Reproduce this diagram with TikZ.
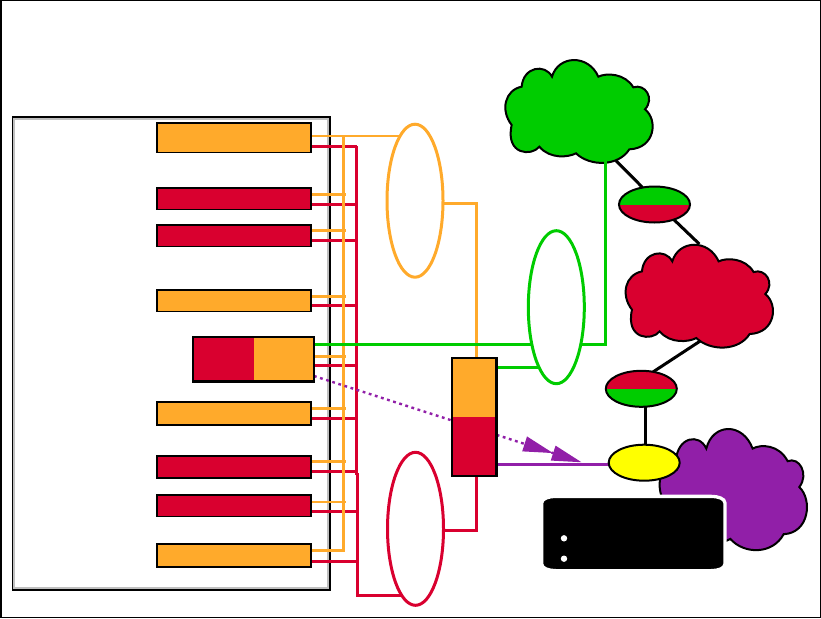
\documentclass[tikz,border=0pt]{standalone}
\usetikzlibrary{arrows.meta,shapes.geometric,backgrounds}

\tikzset{
	slotbox/.style={draw, line width=1.6pt, inner sep=0pt, outer sep=0pt, minimum width=154pt},
	splitbox/.style={draw, line width=2.4pt, inner sep=0pt, outer sep=0pt},
	ringnode/.style={draw=#1, fill=white, ellipse, line width=3pt, inner sep=0pt, outer sep=0pt, minimum width=56pt, minimum height=153pt},
	gatenode/.style={draw, ellipse, line width=2pt, inner sep=0pt, outer sep=0pt, minimum width=71pt, minimum height=36pt},
	dotnode/.style={circle, fill=white, inner sep=0pt, minimum size=6.4pt},
	tophalf/.style={path picture={\fill[#1] (path picture bounding box.north west) rectangle (path picture bounding box.east);}},
	lefthalf/.style={path picture={\fill[#1] (path picture bounding box.north west) rectangle (path picture bounding box.south);}},
	wire/.style={line width=2.7pt},
	stub/.style={line width=2.4pt},
	netlink/.style={line width=3pt, black},
	cloudlobes/.pic={
		\draw[line width=2pt, pic actions, scale=1/3] (186,110)
			.. controls (205,45) and (295,42) .. (325,110)
			.. controls (350,98) and (405,100) .. (430,142)
			.. controls (465,130) and (495,175) .. (465,208)
			.. controls (505,240) and (495,325) .. (418,328)
			.. controls (385,380) and (300,380) .. (258,340)
			.. controls (235,352) and (180,358) .. (148,320)
			.. controls (125,350) and (45,345) .. (65,255)
			.. controls (30,210) and (45,150) .. (95,140)
			.. controls (100,80) and (165,70) .. (186,110) -- cycle;
		\coordinate (-link) at (126,120.7);
		\coordinate (-pipe) at (115.3,120.7);
		\coordinate (-up) at (89,19.3);
		\coordinate (-down) at (90.4,116);
	}
}

\begin{document}
\begin{tikzpicture}[x=1pt, y=-1pt]
	\definecolor{netorange}{RGB}{255, 170, 43}
	\definecolor{netred}{RGB}{217, 0, 47}
	\definecolor{netgreen}{RGB}{0, 204, 0}
	\definecolor{netpurple}{RGB}{145, 31, 168}
	\definecolor{netyellow}{RGB}{255, 255, 0}
	\useasboundingbox (0,0) rectangle (821,618);

	% boxes
	\node[slotbox, fill=netorange, minimum height=29.7pt] (slotA) at (234,137.8) {};
	\node[slotbox, fill=netred, minimum height=21.7pt] (slotB) at (234,198.8) {};
	\node[slotbox, fill=netred, minimum height=21.7pt] (slotC) at (234,235.8) {};
	\node[slotbox, fill=netorange, minimum height=21.7pt] (slotD) at (234,300.8) {};
	\node[slotbox, fill=netorange, minimum height=23pt] (slotE) at (234,413.5) {};
	\node[slotbox, fill=netred, minimum height=22pt] (slotF) at (234,467) {};
	\node[slotbox, fill=netred, minimum height=21.7pt] (slotG) at (234,505.8) {};
	\node[slotbox, fill=netorange, minimum height=23pt] (slotH) at (234,555.5) {};
	\node[splitbox, fill=netorange, lefthalf=netred, minimum width=120.7pt, minimum height=44.7pt] (midbox) at (253.6,359.3) {};
	\node[splitbox, fill=netred, tophalf=netorange, minimum width=44.3pt, minimum height=118pt] (stackbox) at (474.2,416.7) {};

	% rings
	\node[ringnode=netorange] (ringorange) at (415,200.7) {};
	\node[ringnode=netgreen] (ringgreen) at (556.3,307.2) {};
	\node[ringnode=netred] (ringred) at (415.5,528.8) {};

	% gates
	\node[gatenode, fill=netred, tophalf=netgreen] (gateup) at (654.5,204.5) {};
	\node[gatenode, fill=netgreen, tophalf=netred] (gatelow) at (641.3,388.8) {};
	\node[gatenode, fill=netyellow] (hubyellow) at (644.2,462.7) {};

	\coordinate (orangebus) at (343.3,136);
	\coordinate (redbus) at (356.5,146.3);
	\coordinate (redbend) at (357.7,595.5);
	\coordinate (stackdrop) at (476.3,530.3);
	\coordinate (arrowtip) at (581.7,462.3);

	\begin{scope}[on background layer]
		% sheet and panel
		\node[draw, line width=1.5pt, inner sep=0pt, minimum width=819.5pt, minimum height=616.5pt] (sheet) at (410.5,309) {};
		\node[draw, line width=1.6pt, inner sep=0pt, minimum width=317pt, minimum height=473pt] (panel) at (171.2,353.5) {};
		\node[draw=black!25, line width=2pt, inner sep=0pt, minimum width=313.5pt, minimum height=468.6pt] (panelrim) at (171.2,353.5) {};

		% clouds
		\pic[fill=netgreen] (cloudgreen) at (490,40) {cloudlobes};
		\pic[fill=netred] (cloudred) at (610.3,224.7) {cloudlobes};
		\pic[fill=netpurple, yscale=1.178] (cloudpurple) at (644.3,405.4) {cloudlobes};

		% wires to the two buses
		\foreach \slot/\oy/\ry in {slotB/194.3/204.3, slotC/230.3/240.3, slotD/296.3/305.3, midbox/356.3/365.3, slotE/408.3/418.3, slotF/461.3/471.3, slotG/502/511.3}
		{
			\draw[stub, netorange, shorten >=-2.7pt] (\slot.east |- 0,\oy) -- (orangebus |- 0,\oy);
			\draw[stub, netred] (\slot.east |- 0,\ry) -- (redbus |- 0,\ry);
		}
		\draw[stub, netred] (slotA.east |- redbus) -- (redbus);
		\draw[stub, netred] (slotH.east |- 0,561.3) -- (redbus |- 0,561.3);
		\draw[wire, netorange] (slotH.east |- 0,550.3) -- (orangebus |- 0,550.3) -- (orangebus);
		\draw[wire, netred] (redbus) -- (redbus |- 0,475);
		\draw[wire, netred] (redbend |- 0,473) -- (redbend) -- (ringred |- redbend);

		% wires to the rings
		\draw[wire, netorange] (slotA.east |- orangebus) -- (ringorange |- orangebus);
		\draw[wire, netorange] (ringorange |- 0,203.3) -| (stackbox.north -| stackdrop);
		\draw[wire, netred] (stackbox.south -| stackdrop) -- (stackdrop) -- (ringred |- stackdrop);
		\draw[wire, netgreen] (midbox.east |- 0,344.3) -| (cloudgreen-pipe);
		\draw[wire, netgreen] (stackbox.east |- 0,367.3) -- (ringgreen |- 0,367.3);

		% purple links
		\draw[stub, netpurple, dash pattern=on 2.8pt off 3.6pt, -{Triangle[length=30pt,width=15pt,sep=0pt]Triangle[length=30pt,width=15pt]}] (midbox.east |- 0,376) -- (arrowtip);
		\draw[wire, netpurple] (stackbox.east |- 0,464.3) -- (hubyellow |- 0,464.3);
	\end{scope}

	% black links
	\draw[netlink] (cloudgreen-link) -- (gateup.125);
	\draw[netlink] (gateup.-38) -- (cloudred-up);
	\draw[netlink] (cloudred-down) -- (gatelow.55);
	\draw[netlink] ([xshift=1pt]hubyellow.north |- gatelow.south) -- ([xshift=1pt]hubyellow.north);

	% black box with two dots
	\draw[draw=white, fill=black, line width=3.3pt] (541.65,503)
		.. controls (541.65,498.5) and (549,496.35) .. (556,496.35)
		-- (711,496.35)
		.. controls (718,496.35) and (724.95,498.5) .. (724.95,503)
		-- (724.95,564)
		.. controls (724.95,568.5) and (718,570.65) .. (711,570.65)
		-- (556,570.65)
		.. controls (549,570.65) and (541.65,568.5) .. (541.65,564) -- cycle;
	\node[dotnode] (dotup) at (564,538.3) {};
	\node[dotnode] (dotlow) at (564,558.7) {};
\end{tikzpicture}
\end{document}
